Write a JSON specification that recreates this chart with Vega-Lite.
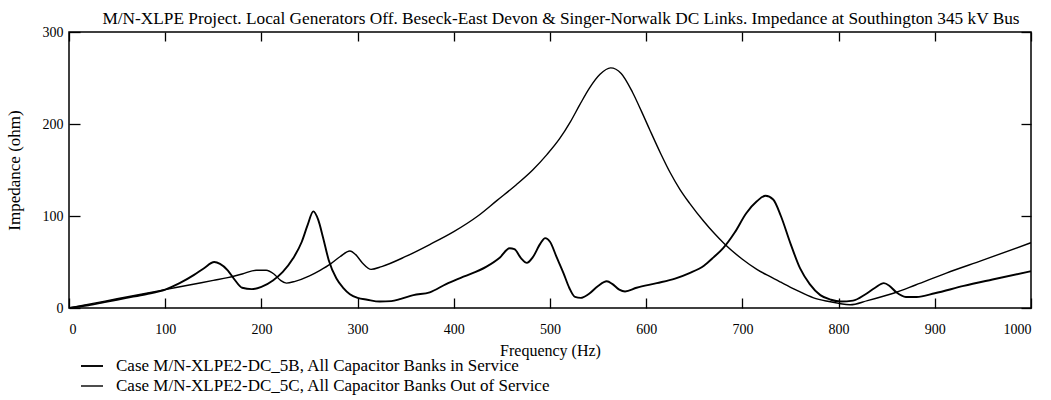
{
  "$schema": "https://vega.github.io/schema/vega-lite/v6.json",
  "width": 962,
  "height": 276,
  "autosize": {"type": "none"},
  "padding": {"left": 69, "top": 32, "right": 20, "bottom": 92},
  "background": "white",
  "config": {
    "view": {"stroke": "black", "strokeWidth": 1.5},
    "font": "Liberation Serif"
  },
  "title": {
    "text": "M/N-XLPE Project. Local Generators Off. Beseck-East Devon & Singer-Norwalk DC Links. Impedance at Southington 345 kV Bus",
    "font": "Liberation Serif",
    "fontSize": 17.3,
    "fontWeight": "normal",
    "color": "black",
    "anchor": "middle",
    "dx": 11,
    "offset": -2
  },
  "datasets": {
    "imp": [
      {"freq": 0, "z": 0, "case": "Case M/N-XLPE2-DC_5B, All Capacitor Banks in Service"},
      {"freq": 20, "z": 3, "case": "Case M/N-XLPE2-DC_5B, All Capacitor Banks in Service"},
      {"freq": 40, "z": 7, "case": "Case M/N-XLPE2-DC_5B, All Capacitor Banks in Service"},
      {"freq": 60, "z": 11, "case": "Case M/N-XLPE2-DC_5B, All Capacitor Banks in Service"},
      {"freq": 80, "z": 15, "case": "Case M/N-XLPE2-DC_5B, All Capacitor Banks in Service"},
      {"freq": 100, "z": 20, "case": "Case M/N-XLPE2-DC_5B, All Capacitor Banks in Service"},
      {"freq": 115, "z": 27, "case": "Case M/N-XLPE2-DC_5B, All Capacitor Banks in Service"},
      {"freq": 130, "z": 36, "case": "Case M/N-XLPE2-DC_5B, All Capacitor Banks in Service"},
      {"freq": 140, "z": 43, "case": "Case M/N-XLPE2-DC_5B, All Capacitor Banks in Service"},
      {"freq": 151, "z": 50, "case": "Case M/N-XLPE2-DC_5B, All Capacitor Banks in Service"},
      {"freq": 157, "z": 48, "case": "Case M/N-XLPE2-DC_5B, All Capacitor Banks in Service"},
      {"freq": 165, "z": 41, "case": "Case M/N-XLPE2-DC_5B, All Capacitor Banks in Service"},
      {"freq": 172, "z": 31, "case": "Case M/N-XLPE2-DC_5B, All Capacitor Banks in Service"},
      {"freq": 180, "z": 22, "case": "Case M/N-XLPE2-DC_5B, All Capacitor Banks in Service"},
      {"freq": 190, "z": 20.5, "case": "Case M/N-XLPE2-DC_5B, All Capacitor Banks in Service"},
      {"freq": 200, "z": 23, "case": "Case M/N-XLPE2-DC_5B, All Capacitor Banks in Service"},
      {"freq": 212, "z": 30, "case": "Case M/N-XLPE2-DC_5B, All Capacitor Banks in Service"},
      {"freq": 222, "z": 39, "case": "Case M/N-XLPE2-DC_5B, All Capacitor Banks in Service"},
      {"freq": 233, "z": 54, "case": "Case M/N-XLPE2-DC_5B, All Capacitor Banks in Service"},
      {"freq": 242, "z": 72, "case": "Case M/N-XLPE2-DC_5B, All Capacitor Banks in Service"},
      {"freq": 248, "z": 90, "case": "Case M/N-XLPE2-DC_5B, All Capacitor Banks in Service"},
      {"freq": 254, "z": 105, "case": "Case M/N-XLPE2-DC_5B, All Capacitor Banks in Service"},
      {"freq": 259, "z": 96, "case": "Case M/N-XLPE2-DC_5B, All Capacitor Banks in Service"},
      {"freq": 264, "z": 77, "case": "Case M/N-XLPE2-DC_5B, All Capacitor Banks in Service"},
      {"freq": 270, "z": 52, "case": "Case M/N-XLPE2-DC_5B, All Capacitor Banks in Service"},
      {"freq": 278, "z": 32, "case": "Case M/N-XLPE2-DC_5B, All Capacitor Banks in Service"},
      {"freq": 285, "z": 22, "case": "Case M/N-XLPE2-DC_5B, All Capacitor Banks in Service"},
      {"freq": 292, "z": 15, "case": "Case M/N-XLPE2-DC_5B, All Capacitor Banks in Service"},
      {"freq": 300, "z": 11, "case": "Case M/N-XLPE2-DC_5B, All Capacitor Banks in Service"},
      {"freq": 310, "z": 9, "case": "Case M/N-XLPE2-DC_5B, All Capacitor Banks in Service"},
      {"freq": 323, "z": 7, "case": "Case M/N-XLPE2-DC_5B, All Capacitor Banks in Service"},
      {"freq": 335, "z": 7.5, "case": "Case M/N-XLPE2-DC_5B, All Capacitor Banks in Service"},
      {"freq": 345, "z": 10, "case": "Case M/N-XLPE2-DC_5B, All Capacitor Banks in Service"},
      {"freq": 358, "z": 14, "case": "Case M/N-XLPE2-DC_5B, All Capacitor Banks in Service"},
      {"freq": 375, "z": 17, "case": "Case M/N-XLPE2-DC_5B, All Capacitor Banks in Service"},
      {"freq": 392, "z": 26, "case": "Case M/N-XLPE2-DC_5B, All Capacitor Banks in Service"},
      {"freq": 410, "z": 34, "case": "Case M/N-XLPE2-DC_5B, All Capacitor Banks in Service"},
      {"freq": 434, "z": 45, "case": "Case M/N-XLPE2-DC_5B, All Capacitor Banks in Service"},
      {"freq": 448, "z": 55, "case": "Case M/N-XLPE2-DC_5B, All Capacitor Banks in Service"},
      {"freq": 458, "z": 65, "case": "Case M/N-XLPE2-DC_5B, All Capacitor Banks in Service"},
      {"freq": 463, "z": 64, "case": "Case M/N-XLPE2-DC_5B, All Capacitor Banks in Service"},
      {"freq": 470, "z": 54, "case": "Case M/N-XLPE2-DC_5B, All Capacitor Banks in Service"},
      {"freq": 476, "z": 49, "case": "Case M/N-XLPE2-DC_5B, All Capacitor Banks in Service"},
      {"freq": 482, "z": 55, "case": "Case M/N-XLPE2-DC_5B, All Capacitor Banks in Service"},
      {"freq": 490, "z": 70, "case": "Case M/N-XLPE2-DC_5B, All Capacitor Banks in Service"},
      {"freq": 495, "z": 76, "case": "Case M/N-XLPE2-DC_5B, All Capacitor Banks in Service"},
      {"freq": 500, "z": 72, "case": "Case M/N-XLPE2-DC_5B, All Capacitor Banks in Service"},
      {"freq": 507, "z": 55, "case": "Case M/N-XLPE2-DC_5B, All Capacitor Banks in Service"},
      {"freq": 514, "z": 38, "case": "Case M/N-XLPE2-DC_5B, All Capacitor Banks in Service"},
      {"freq": 520, "z": 22, "case": "Case M/N-XLPE2-DC_5B, All Capacitor Banks in Service"},
      {"freq": 526, "z": 12, "case": "Case M/N-XLPE2-DC_5B, All Capacitor Banks in Service"},
      {"freq": 532, "z": 11, "case": "Case M/N-XLPE2-DC_5B, All Capacitor Banks in Service"},
      {"freq": 540, "z": 15, "case": "Case M/N-XLPE2-DC_5B, All Capacitor Banks in Service"},
      {"freq": 550, "z": 24, "case": "Case M/N-XLPE2-DC_5B, All Capacitor Banks in Service"},
      {"freq": 559, "z": 29, "case": "Case M/N-XLPE2-DC_5B, All Capacitor Banks in Service"},
      {"freq": 565, "z": 26, "case": "Case M/N-XLPE2-DC_5B, All Capacitor Banks in Service"},
      {"freq": 572, "z": 20, "case": "Case M/N-XLPE2-DC_5B, All Capacitor Banks in Service"},
      {"freq": 578, "z": 18, "case": "Case M/N-XLPE2-DC_5B, All Capacitor Banks in Service"},
      {"freq": 590, "z": 22, "case": "Case M/N-XLPE2-DC_5B, All Capacitor Banks in Service"},
      {"freq": 611, "z": 27, "case": "Case M/N-XLPE2-DC_5B, All Capacitor Banks in Service"},
      {"freq": 630, "z": 32, "case": "Case M/N-XLPE2-DC_5B, All Capacitor Banks in Service"},
      {"freq": 645, "z": 38, "case": "Case M/N-XLPE2-DC_5B, All Capacitor Banks in Service"},
      {"freq": 660, "z": 46, "case": "Case M/N-XLPE2-DC_5B, All Capacitor Banks in Service"},
      {"freq": 670, "z": 55, "case": "Case M/N-XLPE2-DC_5B, All Capacitor Banks in Service"},
      {"freq": 680, "z": 65, "case": "Case M/N-XLPE2-DC_5B, All Capacitor Banks in Service"},
      {"freq": 692, "z": 82, "case": "Case M/N-XLPE2-DC_5B, All Capacitor Banks in Service"},
      {"freq": 704, "z": 103, "case": "Case M/N-XLPE2-DC_5B, All Capacitor Banks in Service"},
      {"freq": 715, "z": 116, "case": "Case M/N-XLPE2-DC_5B, All Capacitor Banks in Service"},
      {"freq": 724, "z": 122, "case": "Case M/N-XLPE2-DC_5B, All Capacitor Banks in Service"},
      {"freq": 732, "z": 118, "case": "Case M/N-XLPE2-DC_5B, All Capacitor Banks in Service"},
      {"freq": 740, "z": 100, "case": "Case M/N-XLPE2-DC_5B, All Capacitor Banks in Service"},
      {"freq": 750, "z": 70, "case": "Case M/N-XLPE2-DC_5B, All Capacitor Banks in Service"},
      {"freq": 760, "z": 43, "case": "Case M/N-XLPE2-DC_5B, All Capacitor Banks in Service"},
      {"freq": 770, "z": 26, "case": "Case M/N-XLPE2-DC_5B, All Capacitor Banks in Service"},
      {"freq": 781, "z": 14, "case": "Case M/N-XLPE2-DC_5B, All Capacitor Banks in Service"},
      {"freq": 792, "z": 9, "case": "Case M/N-XLPE2-DC_5B, All Capacitor Banks in Service"},
      {"freq": 802, "z": 7, "case": "Case M/N-XLPE2-DC_5B, All Capacitor Banks in Service"},
      {"freq": 815, "z": 8, "case": "Case M/N-XLPE2-DC_5B, All Capacitor Banks in Service"},
      {"freq": 828, "z": 15, "case": "Case M/N-XLPE2-DC_5B, All Capacitor Banks in Service"},
      {"freq": 838, "z": 22, "case": "Case M/N-XLPE2-DC_5B, All Capacitor Banks in Service"},
      {"freq": 847, "z": 27, "case": "Case M/N-XLPE2-DC_5B, All Capacitor Banks in Service"},
      {"freq": 853, "z": 24, "case": "Case M/N-XLPE2-DC_5B, All Capacitor Banks in Service"},
      {"freq": 860, "z": 17, "case": "Case M/N-XLPE2-DC_5B, All Capacitor Banks in Service"},
      {"freq": 870, "z": 12, "case": "Case M/N-XLPE2-DC_5B, All Capacitor Banks in Service"},
      {"freq": 881, "z": 12, "case": "Case M/N-XLPE2-DC_5B, All Capacitor Banks in Service"},
      {"freq": 900, "z": 16, "case": "Case M/N-XLPE2-DC_5B, All Capacitor Banks in Service"},
      {"freq": 930, "z": 24, "case": "Case M/N-XLPE2-DC_5B, All Capacitor Banks in Service"},
      {"freq": 960, "z": 31, "case": "Case M/N-XLPE2-DC_5B, All Capacitor Banks in Service"},
      {"freq": 1000, "z": 40, "case": "Case M/N-XLPE2-DC_5B, All Capacitor Banks in Service"},
      {"freq": 0, "z": 0, "case": "Case M/N-XLPE2-DC_5C, All Capacitor Banks Out of Service"},
      {"freq": 25, "z": 5, "case": "Case M/N-XLPE2-DC_5C, All Capacitor Banks Out of Service"},
      {"freq": 50, "z": 10, "case": "Case M/N-XLPE2-DC_5C, All Capacitor Banks Out of Service"},
      {"freq": 75, "z": 15, "case": "Case M/N-XLPE2-DC_5C, All Capacitor Banks Out of Service"},
      {"freq": 100, "z": 20, "case": "Case M/N-XLPE2-DC_5C, All Capacitor Banks Out of Service"},
      {"freq": 125, "z": 25, "case": "Case M/N-XLPE2-DC_5C, All Capacitor Banks Out of Service"},
      {"freq": 150, "z": 30, "case": "Case M/N-XLPE2-DC_5C, All Capacitor Banks Out of Service"},
      {"freq": 165, "z": 33, "case": "Case M/N-XLPE2-DC_5C, All Capacitor Banks Out of Service"},
      {"freq": 180, "z": 37, "case": "Case M/N-XLPE2-DC_5C, All Capacitor Banks Out of Service"},
      {"freq": 195, "z": 41, "case": "Case M/N-XLPE2-DC_5C, All Capacitor Banks Out of Service"},
      {"freq": 205, "z": 41, "case": "Case M/N-XLPE2-DC_5C, All Capacitor Banks Out of Service"},
      {"freq": 213, "z": 37, "case": "Case M/N-XLPE2-DC_5C, All Capacitor Banks Out of Service"},
      {"freq": 220, "z": 30, "case": "Case M/N-XLPE2-DC_5C, All Capacitor Banks Out of Service"},
      {"freq": 226, "z": 27, "case": "Case M/N-XLPE2-DC_5C, All Capacitor Banks Out of Service"},
      {"freq": 235, "z": 29, "case": "Case M/N-XLPE2-DC_5C, All Capacitor Banks Out of Service"},
      {"freq": 250, "z": 35, "case": "Case M/N-XLPE2-DC_5C, All Capacitor Banks Out of Service"},
      {"freq": 261, "z": 41, "case": "Case M/N-XLPE2-DC_5C, All Capacitor Banks Out of Service"},
      {"freq": 272, "z": 48, "case": "Case M/N-XLPE2-DC_5C, All Capacitor Banks Out of Service"},
      {"freq": 282, "z": 56, "case": "Case M/N-XLPE2-DC_5C, All Capacitor Banks Out of Service"},
      {"freq": 292, "z": 62, "case": "Case M/N-XLPE2-DC_5C, All Capacitor Banks Out of Service"},
      {"freq": 298, "z": 58, "case": "Case M/N-XLPE2-DC_5C, All Capacitor Banks Out of Service"},
      {"freq": 305, "z": 49, "case": "Case M/N-XLPE2-DC_5C, All Capacitor Banks Out of Service"},
      {"freq": 314, "z": 42, "case": "Case M/N-XLPE2-DC_5C, All Capacitor Banks Out of Service"},
      {"freq": 325, "z": 45, "case": "Case M/N-XLPE2-DC_5C, All Capacitor Banks Out of Service"},
      {"freq": 350, "z": 56, "case": "Case M/N-XLPE2-DC_5C, All Capacitor Banks Out of Service"},
      {"freq": 375, "z": 69, "case": "Case M/N-XLPE2-DC_5C, All Capacitor Banks Out of Service"},
      {"freq": 400, "z": 83, "case": "Case M/N-XLPE2-DC_5C, All Capacitor Banks Out of Service"},
      {"freq": 425, "z": 100, "case": "Case M/N-XLPE2-DC_5C, All Capacitor Banks Out of Service"},
      {"freq": 445, "z": 117, "case": "Case M/N-XLPE2-DC_5C, All Capacitor Banks Out of Service"},
      {"freq": 465, "z": 134, "case": "Case M/N-XLPE2-DC_5C, All Capacitor Banks Out of Service"},
      {"freq": 482, "z": 150, "case": "Case M/N-XLPE2-DC_5C, All Capacitor Banks Out of Service"},
      {"freq": 497, "z": 167, "case": "Case M/N-XLPE2-DC_5C, All Capacitor Banks Out of Service"},
      {"freq": 510, "z": 184, "case": "Case M/N-XLPE2-DC_5C, All Capacitor Banks Out of Service"},
      {"freq": 521, "z": 202, "case": "Case M/N-XLPE2-DC_5C, All Capacitor Banks Out of Service"},
      {"freq": 531, "z": 221, "case": "Case M/N-XLPE2-DC_5C, All Capacitor Banks Out of Service"},
      {"freq": 541, "z": 239, "case": "Case M/N-XLPE2-DC_5C, All Capacitor Banks Out of Service"},
      {"freq": 552, "z": 254, "case": "Case M/N-XLPE2-DC_5C, All Capacitor Banks Out of Service"},
      {"freq": 563, "z": 261, "case": "Case M/N-XLPE2-DC_5C, All Capacitor Banks Out of Service"},
      {"freq": 574, "z": 255, "case": "Case M/N-XLPE2-DC_5C, All Capacitor Banks Out of Service"},
      {"freq": 586, "z": 234, "case": "Case M/N-XLPE2-DC_5C, All Capacitor Banks Out of Service"},
      {"freq": 595, "z": 214, "case": "Case M/N-XLPE2-DC_5C, All Capacitor Banks Out of Service"},
      {"freq": 604, "z": 193, "case": "Case M/N-XLPE2-DC_5C, All Capacitor Banks Out of Service"},
      {"freq": 615, "z": 168, "case": "Case M/N-XLPE2-DC_5C, All Capacitor Banks Out of Service"},
      {"freq": 625, "z": 147, "case": "Case M/N-XLPE2-DC_5C, All Capacitor Banks Out of Service"},
      {"freq": 635, "z": 129, "case": "Case M/N-XLPE2-DC_5C, All Capacitor Banks Out of Service"},
      {"freq": 645, "z": 114, "case": "Case M/N-XLPE2-DC_5C, All Capacitor Banks Out of Service"},
      {"freq": 660, "z": 94, "case": "Case M/N-XLPE2-DC_5C, All Capacitor Banks Out of Service"},
      {"freq": 670, "z": 82, "case": "Case M/N-XLPE2-DC_5C, All Capacitor Banks Out of Service"},
      {"freq": 682, "z": 69, "case": "Case M/N-XLPE2-DC_5C, All Capacitor Banks Out of Service"},
      {"freq": 700, "z": 53, "case": "Case M/N-XLPE2-DC_5C, All Capacitor Banks Out of Service"},
      {"freq": 715, "z": 42, "case": "Case M/N-XLPE2-DC_5C, All Capacitor Banks Out of Service"},
      {"freq": 729, "z": 34, "case": "Case M/N-XLPE2-DC_5C, All Capacitor Banks Out of Service"},
      {"freq": 740, "z": 28, "case": "Case M/N-XLPE2-DC_5C, All Capacitor Banks Out of Service"},
      {"freq": 755, "z": 20, "case": "Case M/N-XLPE2-DC_5C, All Capacitor Banks Out of Service"},
      {"freq": 774, "z": 11, "case": "Case M/N-XLPE2-DC_5C, All Capacitor Banks Out of Service"},
      {"freq": 790, "z": 7, "case": "Case M/N-XLPE2-DC_5C, All Capacitor Banks Out of Service"},
      {"freq": 800, "z": 5, "case": "Case M/N-XLPE2-DC_5C, All Capacitor Banks Out of Service"},
      {"freq": 812, "z": 3.5, "case": "Case M/N-XLPE2-DC_5C, All Capacitor Banks Out of Service"},
      {"freq": 830, "z": 8, "case": "Case M/N-XLPE2-DC_5C, All Capacitor Banks Out of Service"},
      {"freq": 857, "z": 16, "case": "Case M/N-XLPE2-DC_5C, All Capacitor Banks Out of Service"},
      {"freq": 880, "z": 25, "case": "Case M/N-XLPE2-DC_5C, All Capacitor Banks Out of Service"},
      {"freq": 912, "z": 38, "case": "Case M/N-XLPE2-DC_5C, All Capacitor Banks Out of Service"},
      {"freq": 950, "z": 52, "case": "Case M/N-XLPE2-DC_5C, All Capacitor Banks Out of Service"},
      {"freq": 1000, "z": 71, "case": "Case M/N-XLPE2-DC_5C, All Capacitor Banks Out of Service"}
    ]
  },
  "data": {"name": "imp"},
  "layer": [
    {
      "mark": {"type": "line", "interpolate": "monotone", "clip": true},
      "encoding": {
        "x": {
          "field": "freq",
          "type": "quantitative",
          "scale": {"domain": [0, 1000], "nice": false, "zero": false},
          "axis": {
            "orient": "bottom",
            "values": [0, 100, 200, 300, 400, 500, 600, 700, 800, 900, 1000],
            "format": "d",
            "tickSize": -10,
            "tickColor": "black",
            "tickWidth": 1.3,
            "domain": false,
            "grid": false,
            "labelPadding": 24,
            "labelFont": "Liberation Serif",
            "labelFontSize": 14,
            "labelColor": "black",
            "title": "Frequency (Hz)",
            "titleFont": "Liberation Serif",
            "titleFontSize": 16,
            "titleFontWeight": "normal",
            "titleColor": "black",
            "titlePadding": 6
          }
        },
        "y": {
          "field": "z",
          "type": "quantitative",
          "scale": {"domain": [0, 300], "nice": false},
          "axis": {
            "orient": "left",
            "values": [0, 100, 200, 300],
            "tickSize": -11,
            "tickColor": "black",
            "tickWidth": 1.3,
            "domain": false,
            "grid": false,
            "labelPadding": 17,
            "labelFont": "Liberation Serif",
            "labelFontSize": 14,
            "labelColor": "black",
            "title": "Impedance (ohm)",
            "titleFont": "Liberation Serif",
            "titleFontSize": 17,
            "titleFontWeight": "normal",
            "titleColor": "black",
            "titlePadding": 19
          }
        },
        "color": {
          "field": "case",
          "type": "nominal",
          "scale": {"range": ["black", "black"]},
          "legend": {
            "orient": "none",
            "legendX": 11,
            "legendY": 322,
            "title": null,
            "symbolType": "stroke",
            "symbolSize": 484,
            "symbolStrokeColor": "black",
            "symbolStrokeWidth": 1.2,
            "labelFont": "Liberation Serif",
            "labelFontSize": 17,
            "labelColor": "black",
            "labelOffset": 12,
            "labelLimit": 0,
            "rowPadding": -6
          }
        },
        "strokeWidth": {
          "field": "case",
          "type": "nominal",
          "scale": {"range": [1.9, 1.4]},
          "legend": null
        }
      }
    },
    {
      "mark": {"type": "line", "opacity": 0},
      "encoding": {
        "x": {
          "field": "freq",
          "type": "quantitative",
          "scale": {"domain": [0, 1000], "nice": false, "zero": false},
          "axis": {
            "orient": "top",
            "values": [0, 100, 200, 300, 400, 500, 600, 700, 800, 900, 1000],
            "tickSize": -9,
            "tickColor": "black",
            "tickWidth": 1.3,
            "domain": false,
            "grid": false,
            "labels": false,
            "title": null
          }
        },
        "y": {
          "field": "z",
          "type": "quantitative",
          "scale": {"domain": [0, 300], "nice": false},
          "axis": {
            "orient": "right",
            "values": [0, 100, 200, 300],
            "tickSize": -10,
            "tickColor": "black",
            "tickWidth": 1.3,
            "domain": false,
            "grid": false,
            "labels": false,
            "title": null
          }
        },
        "detail": {"field": "case", "type": "nominal"}
      }
    }
  ],
  "resolve": {"scale": {"x": "independent", "y": "independent"}}
}
